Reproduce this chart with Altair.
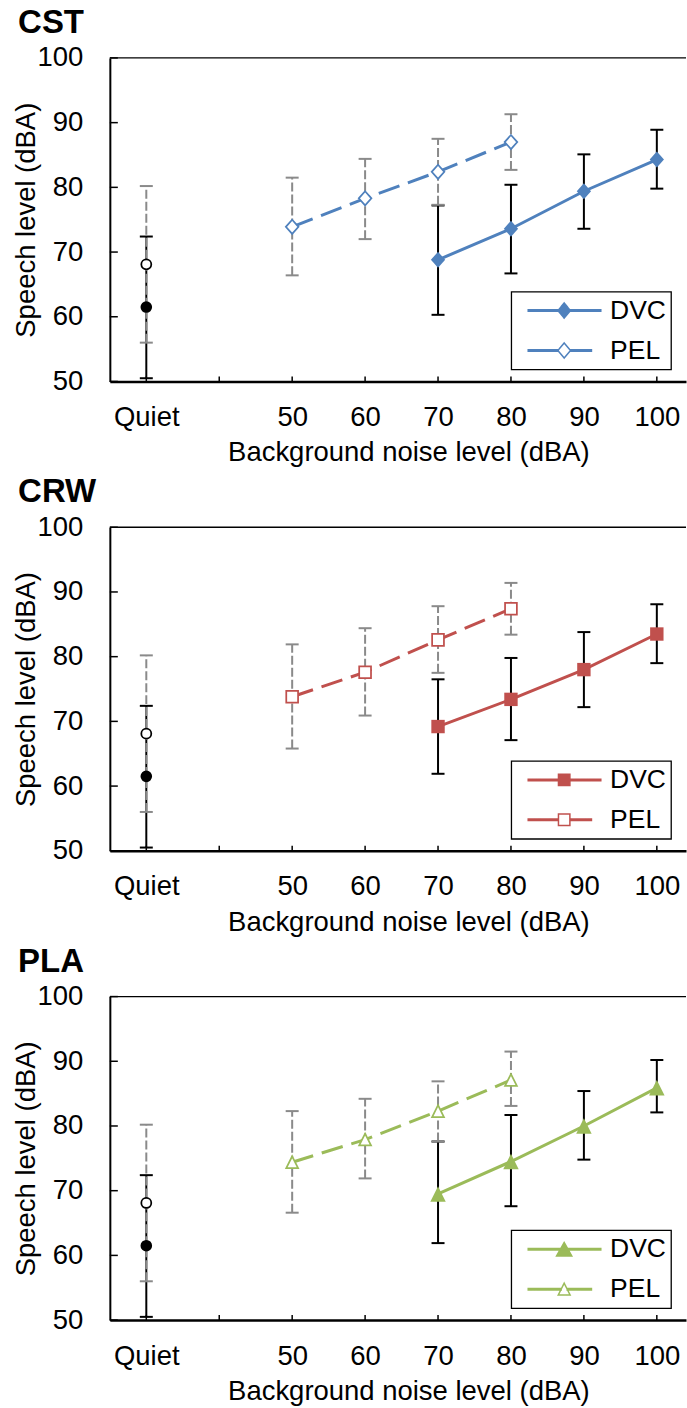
import altair as alt
import pandas as pd

FONT = "Liberation Sans"
GREY = "#8a8a8a"
FS = 27.5

# ---------------- data ----------------
panel_names = ["CST", "CRW", "PLA"]
panel_colors = ["#4F81BD", "#C0504D", "#9BBB59"]
series_names = ["DVC", "PEL"]

dvc_noise = [70, 80, 90, 100]
pel_noise = [50, 60, 70, 80]
quiet_x = 30

cst_dvc_mean = [68.8, 73.6, 79.4, 84.3]
cst_dvc_low = [60.3, 66.7, 73.6, 79.8]
cst_dvc_high = [77.2, 80.4, 85.1, 88.9]
cst_pel_mean = [73.9, 78.3, 82.4, 87.0]
cst_pel_low = [66.4, 72.0, 77.3, 82.7]
cst_pel_high = [81.5, 84.4, 87.5, 91.3]

crw_dvc_mean = [69.2, 73.4, 78.0, 83.5]
crw_dvc_low = [61.9, 67.1, 72.2, 79.0]
crw_dvc_high = [76.5, 79.8, 83.8, 88.1]
crw_pel_mean = [73.8, 77.6, 82.6, 87.4]
crw_pel_low = [65.8, 70.9, 77.5, 83.4]
crw_pel_high = [81.9, 84.4, 87.8, 91.4]

pla_dvc_mean = [69.5, 74.5, 80.0, 85.9]
pla_dvc_low = [61.9, 67.6, 74.8, 82.1]
pla_dvc_high = [77.6, 81.7, 85.4, 90.2]
pla_pel_mean = [74.4, 77.9, 82.3, 87.1]
pla_pel_low = [66.6, 71.9, 77.6, 83.1]
pla_pel_high = [82.3, 84.2, 86.9, 91.5]

quiet_dvc = [61.5, 50.5, 72.4]   # mean, low, high
quiet_pel = [68.1, 56.0, 80.2]

x_tick_values = [30, 40, 50, 60, 70, 80, 90, 100]
x_tick_labels = ["Quiet", "", "50", "60", "70", "80", "90", "100"]
y_tick_values = [50, 60, 70, 80, 90, 100]

panel_data = [
    (cst_dvc_mean, cst_dvc_low, cst_dvc_high, cst_pel_mean, cst_pel_low, cst_pel_high),
    (crw_dvc_mean, crw_dvc_low, crw_dvc_high, crw_pel_mean, crw_pel_low, crw_pel_high),
    (pla_dvc_mean, pla_dvc_low, pla_dvc_high, pla_pel_mean, pla_pel_low, pla_pel_high),
]

# ---------------- styling ----------------
W, H = 577, 324

marker_paths = {
    "diamond": "M0,-1.12L1,0L0,1.12L-1,0Z",
    "square": "M-1,-1L1,-1L1,1L-1,1Z",
    "triangle": "M0,-1L1,1L-1,1Z",
}
marker_sizes = {  # filled, open
    "diamond": (205, 160),
    "square": (180, 140),
    "triangle": (240, 140),
}
panel_markers = ["diamond", "square", "triangle"]


def seg(x0, x1, t=0.058):
    return f"M{x0},{-t}L{x1},{-t}L{x1},{t}L{x0},{t}Z"


def legend_marker(kind, filled):
    if kind == "diamond":
        hw, hh = 0.48, 0.585
        return f"M0,{-hh}L{hw},0L0,{hh}L{-hw},0Z", hw
    if kind == "square":
        h = 0.44
        return f"M{-h},{-h}L{h},{-h}L{h},{h}L{-h},{h}Z", h
    if filled:
        hw, hh = 0.585, 0.52
    else:
        hw, hh = 0.46, 0.46
    return f"M0,{-hh}L{hw},{hh}L{-hw},{hh}Z", hw / 2


xscale = alt.Scale(domain=[25, 104], nice=False, zero=False)
yscale = alt.Scale(domain=[50, 100], nice=False, zero=False)

label_expr = (
    "[" + ",".join(f"'{l}'" for l in x_tick_labels) + "]"
    + "[indexof([" + ",".join(str(v) for v in x_tick_values) + "], datum.value)]"
)

xaxis = alt.Axis(
    values=x_tick_values, labelExpr=label_expr,
    title="Background noise level (dBA)", titleX=299,
    ticks=False, tickSize=0, grid=False,
    domainColor="black", domainWidth=2.5,
    labelFlush=False, labelOverlap=False, labelBound=False,
    labelPadding=22, titlePadding=8,
)
yaxis = alt.Axis(
    values=y_tick_values, title="Speech level (dBA)",
    ticks=False, tickSize=0, grid=False,
    domainColor="black", domainWidth=2,
    labelPadding=27, titlePadding=-3, labelOverlap=False,
)


def X(f):
    return alt.X(f, type="quantitative", scale=xscale, axis=xaxis)


def Y(f):
    return alt.Y(f, type="quantitative", scale=yscale, axis=yaxis)


def make_panel(idx):
    name = panel_names[idx]
    color = panel_colors[idx]
    kind = panel_markers[idx]
    dm, dl, dh, pm, pl, ph = panel_data[idx]
    rows = []
    for x, m, lo, hi in zip(dvc_noise, dm, dl, dh):
        rows.append(dict(x=x, mean=m, lo=lo, hi=hi, series="DVC", kind="noise"))
    for x, m, lo, hi in zip(pel_noise, pm, pl, ph):
        rows.append(dict(x=x, mean=m, lo=lo, hi=hi, series="PEL", kind="noise"))
    rows.append(dict(x=quiet_x, mean=quiet_dvc[0], lo=quiet_dvc[1], hi=quiet_dvc[2], series="DVC", kind="quiet"))
    rows.append(dict(x=quiet_x, mean=quiet_pel[0], lo=quiet_pel[1], hi=quiet_pel[2], series="PEL", kind="quiet"))
    df = pd.DataFrame(rows)
    base = alt.Chart(df)

    is_dvc = "datum.series === 'DVC'"
    is_pel = "datum.series === 'PEL'"
    noise = " && datum.kind === 'noise'"

    dvc_err = base.transform_filter(is_dvc).mark_rule(color="black", strokeWidth=2).encode(
        x=X("x"), y=Y("lo"), y2="hi")
    dvc_caps = base.transform_filter(is_dvc).transform_fold(["lo", "hi"], as_=["end", "val"]).mark_tick(
        orient="horizontal", color="black", size=13, thickness=2, opacity=1).encode(x=X("x"), y=Y("val:Q"))
    pel_err = base.transform_filter(is_pel).mark_rule(color=GREY, strokeWidth=2, strokeDash=[9, 3]).encode(
        x=X("x"), y=Y("lo"), y2="hi")
    pel_caps = base.transform_filter(is_pel).transform_fold(["lo", "hi"], as_=["end", "val"]).mark_tick(
        orient="horizontal", color=GREY, size=13, thickness=2, opacity=1).encode(x=X("x"), y=Y("val:Q"))

    mk_f, hw_f = legend_marker(kind, True)
    mk_o, hw_o = legend_marker(kind, False)
    path_dvc = seg(-2.77, 2.82) + mk_f
    path_pel = seg(-2.77, -hw_o) + seg(hw_o, 2.1) + mk_o

    legend = alt.Legend(
        orient="none", legendX=402, legendY=234, title=None,
        padding=5, rowPadding=12, symbolOffset=34, labelOffset=32,
        symbolSize=676, symbolStrokeWidth=1.5, symbolDash=[1, 0],
        symbolType={"expr": f"datum.value === 'DVC' ? '{path_dvc}' : '{path_pel}'"},
        symbolFillColor={"expr": f"datum.value === 'DVC' ? '{color}' : 'white'"},
        symbolStrokeColor=color, symbolOpacity=1,
        strokeColor="black", fillColor="white",
        labelFont=FONT, labelFontSize=26.5, labelColor="black",
        labelExpr="datum.label + ' '",
    )

    # invisible layer that only carries the legend
    legend_layer = base.transform_filter("datum.kind === 'noise'").mark_line(strokeWidth=1.5, opacity=0).encode(
        x=X("x"), y=Y("mean"),
        color=alt.Color("series:N", scale=alt.Scale(domain=series_names, range=[color, color]), legend=legend),
    )
    line_dvc = base.transform_filter(is_dvc + noise).mark_line(color=color, strokeWidth=3).encode(
        x=X("x"), y=Y("mean"))
    line_pel = base.transform_filter(is_pel + noise).mark_line(color=color, strokeWidth=3, strokeDash=[22, 9]).encode(
        x=X("x"), y=Y("mean"))

    dvc_pts = base.transform_filter(is_dvc + noise).mark_point(
        shape=marker_paths[kind], filled=True, color=color, size=marker_sizes[kind][0], opacity=1
    ).encode(x=X("x"), y=Y("mean"))
    pel_pts = base.transform_filter(is_pel + noise).mark_point(
        shape=marker_paths[kind], filled=True, fill="white", stroke=color, strokeWidth=1.75,
        size=marker_sizes[kind][1], opacity=1
    ).encode(x=X("x"), y=Y("mean"))
    q_dvc = base.transform_filter(is_dvc + " && datum.kind === 'quiet'").mark_point(
        shape="circle", filled=True, color="black", size=135, opacity=1
    ).encode(x=X("x"), y=Y("mean"))
    q_pel = base.transform_filter(is_pel + " && datum.kind === 'quiet'").mark_point(
        shape="circle", filled=True, fill="white", stroke="black", strokeWidth=1.75, size=100, opacity=1
    ).encode(x=X("x"), y=Y("mean"))

    xticks = alt.Chart(pd.DataFrame({"t": x_tick_values})).mark_rule(color="black", strokeWidth=1.5).encode(
        x=X("t"), y=alt.value(H - 5), y2=alt.value(H))
    yticks = alt.Chart(pd.DataFrame({"t": y_tick_values})).mark_rule(color="black", strokeWidth=1.5).encode(
        y=Y("t"), x=alt.value(0), x2=alt.value(8))
    top = alt.Chart(pd.DataFrame({"t": [y_tick_values[-1]]})).mark_rule(color="black", strokeWidth=1.3).encode(
        y=Y("t"))

    return alt.layer(
        dvc_err, dvc_caps, pel_err, pel_caps, legend_layer, line_dvc, line_pel,
        dvc_pts, pel_pts, q_dvc, q_pel, xticks, yticks, top
    ).properties(
        width=W, height=H,
        title=alt.Title(name, anchor="start", frame="bounds", fontSize=33, fontWeight="bold",
                        font=FONT, color="black", offset=4, dx=6),
    )


chart = alt.vconcat(*[make_panel(i) for i in range(3)], spacing=10).resolve_scale(
    x="independent", y="independent", color="independent"
).properties(
    padding={"left": 12, "top": 6, "right": 0, "bottom": 0}
).configure_view(stroke=None).configure_axis(
    labelFont=FONT, titleFont=FONT, labelFontSize=FS, titleFontSize=FS,
    labelColor="black", titleColor="black", titleFontWeight="normal",
).configure_legend(strokeWidth=1.3)

chart.save("out.html", embed_options={"renderer": "svg", "actions": False})
